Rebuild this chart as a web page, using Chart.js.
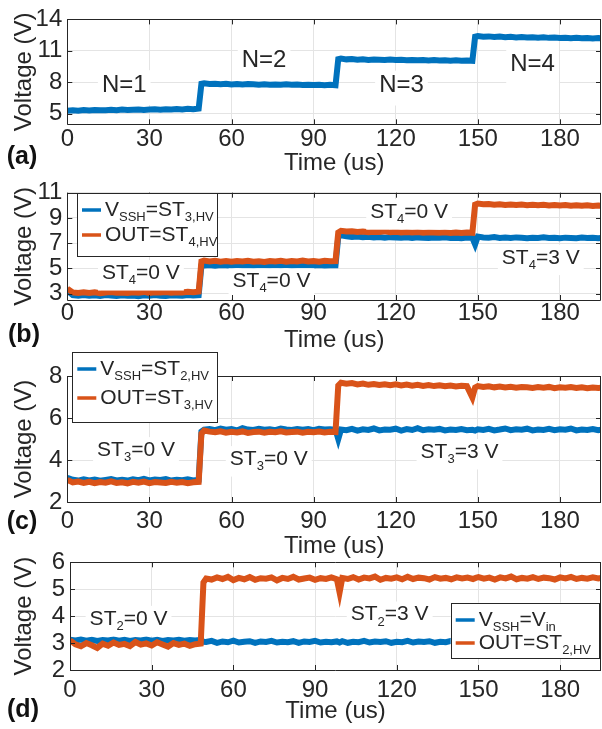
<!DOCTYPE html>
<html><head><meta charset="utf-8">
<script src="https://cdn.jsdelivr.net/npm/chart.js@4/dist/chart.umd.min.js"></script>
<style>
html,body{margin:0;padding:0;background:#fff;}
#wrap{position:relative;width:602px;height:729px;overflow:hidden;background:#fff;}
#wrap canvas{position:absolute;left:0;}
</style></head><body><div id="wrap">
<canvas id="ca" width="602" height="180" style="top:0px"></canvas>
<canvas id="cb" width="602" height="190" style="top:170px"></canvas>
<canvas id="cc" width="602" height="215" style="top:350px"></canvas>
<canvas id="cd" width="602" height="189" style="top:540px"></canvas>
</div>
<script>
// ================= DATA =================
const time = [0,2,4,6,8,10,12,14,16,18,20,22,24,26,28,30,32,34,36,38,40,42,44,46,48,
  49,
  50,52,54,56,58,60,62,64,66,68,70,72,74,76,78,80,82,84,86,88,90,92,94,96,
  98,99,
  100,102,104,106,108,110,112,114,116,118,120,122,124,126,128,130,132,134,136,138,140,142,144,146,
  148,149,
  150,152,154,156,158,160,162,164,166,168,170,172,174,176,178,180,182,184,186,188,190,192,194,
  195];
const xTicks = [0,30,60,90,120,150,180];
const yTicksA = [5,8,11,14];
const yTicksB = [3,5,7,9,11];
const yTicksC = [2,4,6,8];
const yTicksD = [2,3,4,5,6];

// (a) single output
const voltA = [5.30,5.34,5.29,5.36,5.32,5.37,5.33,5.35,5.38,5.34,5.40,5.36,5.39,5.42,5.37,5.41,5.43,5.39,5.44,5.41,5.46,5.42,5.47,5.44,5.50,
  7.86,
  7.90,7.84,7.87,7.82,7.86,7.80,7.84,7.79,7.83,7.81,7.77,7.82,7.78,7.80,7.76,7.81,7.77,7.79,7.75,7.78,7.74,7.77,7.73,7.76,
  7.72,10.20,
  10.26,10.19,10.22,10.16,10.20,10.14,10.18,10.15,10.12,10.17,10.13,10.16,10.11,10.14,10.10,10.13,10.09,10.12,10.08,10.11,10.07,10.10,10.06,10.09,
  10.06,12.36,
  12.42,12.35,12.38,12.32,12.36,12.30,12.34,12.28,12.32,12.27,12.30,12.25,12.29,12.24,12.27,12.22,12.26,12.21,12.24,12.20,12.23,12.19,12.22,
  12.20];

// (b)
const vsshB = [3.25,2.88,2.84,2.90,2.83,2.87,2.82,2.89,2.85,2.81,2.88,2.84,2.86,2.80,2.87,2.83,2.89,2.84,2.82,2.88,2.85,2.83,2.90,2.86,2.88,
  5.20,
  5.24,5.28,5.22,5.27,5.25,5.21,5.29,5.24,5.26,5.22,5.28,5.25,5.23,5.27,5.24,5.29,5.22,5.26,5.25,5.28,5.23,5.27,5.24,5.26,
  5.25,7.50,
  7.62,7.55,7.50,7.53,7.47,7.51,7.46,7.49,7.44,7.48,7.45,7.43,7.47,7.42,7.46,7.44,7.41,7.45,7.43,7.47,7.42,7.44,7.40,7.45,
  7.42,6.90,
  7.52,7.46,7.44,7.48,7.42,7.45,7.41,7.46,7.43,7.40,7.44,7.42,7.46,7.41,7.43,7.39,7.44,7.42,7.40,7.45,7.41,7.43,7.40,
  7.42];
const outB = [3.40,3.10,3.05,3.12,3.06,3.11,3.04,3.09,3.13,3.07,3.10,3.05,3.12,3.08,3.14,3.06,3.11,3.09,3.13,3.07,3.12,3.10,3.15,3.11,3.16,
  5.55,
  5.62,5.56,5.60,5.54,5.58,5.53,5.59,5.55,5.61,5.54,5.57,5.52,5.59,5.56,5.60,5.53,5.58,5.55,5.62,5.56,5.59,5.54,5.60,5.57,
  5.58,7.85,
  7.98,7.92,7.95,7.89,7.93,7.87,7.91,7.88,7.94,7.86,7.90,7.85,7.89,7.84,7.88,7.83,7.87,7.85,7.82,7.86,7.81,7.85,7.80,7.84,
  7.82,10.05,
  10.14,10.08,10.11,10.05,10.09,10.03,10.07,10.02,10.06,10.01,10.05,10.00,10.04,9.99,10.03,9.98,10.02,9.97,10.01,9.96,10.00,9.95,9.99,
  9.97];

// (c)
const vsshC = [3.15,3.06,3.02,3.08,3.03,3.07,3.01,3.05,3.09,3.03,3.06,3.02,3.08,3.04,3.10,3.03,3.07,3.05,3.09,3.02,3.06,3.04,3.08,3.03,3.06,
  5.35,
  5.45,5.48,5.42,5.50,5.44,5.47,5.41,5.52,5.45,5.43,5.49,5.44,5.46,5.42,5.50,5.45,5.43,5.48,5.44,5.47,5.42,5.49,5.45,5.46,
  5.44,5.00,
  5.45,5.42,5.48,5.40,5.46,5.43,5.50,5.41,5.45,5.44,5.49,5.40,5.47,5.43,5.52,5.42,5.46,5.44,5.48,5.41,5.45,5.43,5.47,5.42,
  5.44,5.40,
  5.46,5.43,5.48,5.41,5.45,5.50,5.42,5.46,5.44,5.49,5.41,5.45,5.43,5.48,5.42,5.46,5.44,5.50,5.41,5.45,5.43,5.47,5.42,
  5.44];
const outC = [3.05,2.93,2.97,2.91,2.96,2.90,2.95,2.92,2.98,2.91,2.94,2.89,2.96,2.92,2.97,2.90,2.95,2.93,2.91,2.96,2.92,2.95,2.90,2.94,2.96,
  5.25,
  5.40,5.35,5.32,5.37,5.30,5.34,5.31,5.36,5.29,5.33,5.35,5.30,5.34,5.32,5.37,5.31,5.33,5.35,5.30,5.34,5.32,5.36,5.31,5.34,
  5.33,7.55,
  7.68,7.63,7.66,7.60,7.64,7.58,7.62,7.57,7.61,7.56,7.60,7.55,7.59,7.54,7.58,7.53,7.57,7.52,7.56,7.51,7.55,7.50,7.54,7.52,
  6.98,7.45,
  7.52,7.48,7.51,7.46,7.50,7.45,7.49,7.44,7.48,7.46,7.43,7.47,7.44,7.48,7.42,7.46,7.44,7.47,7.43,7.46,7.42,7.45,7.43,
  7.44];

// (d)
const vsshD = [3.12,3.10,3.13,3.09,3.12,3.08,3.11,3.10,3.13,3.09,3.12,3.08,3.11,3.10,3.13,3.09,3.12,3.08,3.11,3.10,3.12,3.09,3.11,3.10,3.12,
  3.05,
  3.04,3.08,3.01,3.06,3.03,3.09,3.02,3.05,3.07,3.01,3.06,3.04,3.08,3.02,3.05,3.03,3.07,3.01,3.06,3.04,3.08,3.02,3.05,3.03,
  3.06,3.02,
  3.07,3.01,3.05,3.03,3.08,3.02,3.06,3.04,3.07,3.01,3.05,3.03,3.08,3.02,3.06,3.04,3.07,3.01,3.05,3.03,3.08,3.02,3.06,3.04,
  3.05,3.03,
  3.07,3.01,3.05,3.03,3.08,3.02,3.06,3.04,3.07,3.01,3.05,3.03,3.08,3.02,3.06,3.04,3.07,3.01,3.05,3.03,3.08,3.02,3.06,
  3.04];
const outD = [3.10,2.95,2.88,3.00,2.92,2.82,2.98,2.90,3.02,2.93,2.97,2.89,3.04,2.94,2.99,2.91,3.03,2.95,2.87,3.00,2.93,2.98,2.90,2.96,2.98,
  5.25,
  5.40,5.36,5.44,5.38,5.46,5.34,5.42,5.37,5.45,5.35,5.41,5.39,5.44,5.33,5.42,5.38,5.46,5.36,5.40,5.43,5.35,5.41,5.38,5.44,
  5.37,4.88,
  5.42,5.38,5.45,5.36,5.43,5.40,5.47,5.35,5.42,5.39,5.44,5.37,5.46,5.38,5.43,5.41,5.36,5.45,5.39,5.42,5.37,5.44,5.40,5.43,
  5.38,5.42,
  5.45,5.39,5.43,5.36,5.44,5.40,5.47,5.37,5.42,5.39,5.45,5.38,5.43,5.41,5.36,5.44,5.40,5.46,5.38,5.42,5.39,5.44,5.40,
  5.42];

// series names (legend), annotation texts
const namesB = ['V_{SSH}=ST_{3,HV}', 'OUT=ST_{4,HV}'];
const namesC = ['V_{SSH}=ST_{2,HV}', 'OUT=ST_{3,HV}'];
const namesD = ['V_{SSH}=V_{in}', 'OUT=ST_{2,HV}'];
const notesA = ['N=1','N=2','N=3','N=4'];
const notesB = ['ST_{4}=0 V','ST_{4}=0 V','ST_{4}=0 V','ST_{4}=3 V'];
const notesC = ['ST_{3}=0 V','ST_{3}=0 V','ST_{3}=3 V'];
const notesD = ['ST_{2}=0 V','ST_{2}=3 V'];

// ================= STYLE / LAYOUT =================
const FONT = '"Liberation Sans", Arial, Helvetica, sans-serif';
const BLUE = '#0072BD', ORANGE = '#D95319', INK = '#262626', GRID = '#e4e4e4';
const FS = 24, NOTE_FS = 21;

// annotation anchors in data units (time, volts), parallel to notes arrays
const notePosA = [[20.8,7.74],[71.9,10.05],[122.1,7.69],[170,9.74]];
const notePosB = [[26.9,4.63],[74.6,3.98],[124.9,9.45],[173,5.85]];
const notePosC = [[25.1,4.47],[73.6,4.04],[143.3,4.38]];
const notePosD = [[21.5,3.9],[117.4,4.06]];

const panels = [
  {id:'ca', top:0, h:180, left:67.3, areaTop:15, areaBottom:124.3, right:601,
   yMin:4, yMax:14, yTicks:yTicksA, labelCenter:139.7, titleY:163,
   tag:'(a)', tagPos:[22,157],
   series:[{data:voltA, color:BLUE, order:0}],
   notes:notesA, notePos:notePosA, legend:null},
  {id:'cb', top:170, h:190, left:67.3, areaTop:192.7, areaBottom:300, right:601,
   yMin:2.5, yMax:11, yTicks:yTicksB, labelCenter:313, titleY:340,
   tag:'(b)', tagPos:[24,335],
   series:[{data:vsshB, color:BLUE, order:1},{data:outB, color:ORANGE, order:0}],
   notes:notesB, notePos:notePosB,
   legend:{names:namesB, box:[77,193,217.4,256], rows:[210,235]}},
  {id:'cc', top:350, h:215, left:67.3, areaTop:376, areaBottom:502, right:601,
   yMin:2, yMax:8, yTicks:yTicksC, labelCenter:521, titleY:546,
   tag:'(c)', tagPos:[22,522],
   series:[{data:vsshC, color:BLUE, order:1},{data:outC, color:ORANGE, order:0}],
   notes:notesC, notePos:notePosC,
   legend:{names:namesC, box:[72.3,352,217.4,422],rows:[369,398]}},
  {id:'cd', top:540, h:189, left:70, areaTop:562.3, areaBottom:670, right:601,
   yMin:2, yMax:6, yTicks:yTicksD, labelCenter:690, titleY:711,
   tag:'(d)', tagPos:[23,710],
   series:[{data:vsshD, color:BLUE, order:1},{data:outD, color:ORANGE, order:0}],
   notes:notesD, notePos:notePosD,
   legend:{names:namesD, box:[450.7,602.7,599,658], rows:[620,643]}}
];

// ================= RICH TEXT =================
function parseRich(s){
  const parts=[]; const re=/_\{([^}]*)\}/g; let last=0, m;
  while((m=re.exec(s))){ if(m.index>last) parts.push({t:s.slice(last,m.index),sub:false});
    parts.push({t:m[1],sub:true}); last=re.lastIndex; }
  if(last<s.length) parts.push({t:s.slice(last),sub:false});
  return parts;
}
function richWidth(ctx, parts, size){
  let w=0;
  for(const p of parts){ ctx.font=(p.sub?Math.round(size*0.62):size)+'px '+FONT; w+=ctx.measureText(p.t).width; }
  return w;
}
function drawRich(ctx, s, x, y, size, align, bg){
  const parts=parseRich(s); const w=richWidth(ctx,parts,size);
  let cx = align==='center' ? x-w/2 : x;
  if(bg){ ctx.fillStyle='#fff'; ctx.fillRect(cx-4, y-size*0.62, w+8, size*1.45); }
  ctx.fillStyle=INK; ctx.textBaseline='middle'; ctx.textAlign='left';
  for(const p of parts){
    const fs=p.sub?Math.round(size*0.62):size;
    ctx.font=fs+'px '+FONT;
    ctx.fillText(p.t, cx, p.sub ? y+size*0.36 : y);
    cx+=ctx.measureText(p.t).width;
  }
}

// ================= PLUGIN =================
const panelPlugin = {
  id:'panel',
  afterDraw(chart, args, o){
    const P=o.P; const ctx=chart.ctx; const a=chart.chartArea;
    const xs=chart.scales.x, ys=chart.scales.y;
    ctx.save();
    // annotations
    P.notes.forEach((txt,i)=>{
      const px=xs.getPixelForValue(P.notePos[i][0]);
      const py=ys.getPixelForValue(P.notePos[i][1]);
      drawRich(ctx, txt, px, py, P.notes===notesA?FS:NOTE_FS, 'center', true);
    });
    // box + inward ticks
    ctx.strokeStyle=INK; ctx.lineWidth=1;
    ctx.beginPath();
    ctx.rect(Math.round(a.left)+0.5, Math.round(a.top)+0.5, Math.round(a.right-a.left)-1, Math.round(a.bottom-a.top));
    xs.ticks.forEach(t=>{ const px=Math.round(xs.getPixelForValue(t.value))+0.5;
      ctx.moveTo(px,a.bottom); ctx.lineTo(px,a.bottom-5); ctx.moveTo(px,a.top); ctx.lineTo(px,a.top+5); });
    ys.ticks.forEach(t=>{ const py=Math.round(ys.getPixelForValue(t.value))+0.5;
      ctx.moveTo(a.left,py); ctx.lineTo(a.left+5,py); ctx.moveTo(a.right,py); ctx.lineTo(a.right-5,py); });
    ctx.stroke();
    // legend
    if(P.legend){
      const L=P.legend, b=L.box, off=P.top;
      ctx.fillStyle='#fff';
      ctx.fillRect(b[0], b[1]-off, b[2]-b[0], b[3]-b[1]);
      ctx.strokeStyle=INK; ctx.lineWidth=1;
      ctx.strokeRect(Math.round(b[0])+0.5, Math.round(b[1]-off)+0.5, Math.round(b[2]-b[0]), Math.round(b[3]-b[1]));
      P.series.forEach((s,i)=>{
        const y=L.rows[i]-off;
        ctx.strokeStyle=s.color; ctx.lineWidth=3.5;
        ctx.beginPath(); ctx.moveTo(b[0]+5,y); ctx.lineTo(b[0]+24,y); ctx.stroke();
        drawRich(ctx, L.names[i], b[0]+28, y, NOTE_FS, 'left', false);
      });
    }
    // panel tag
    ctx.fillStyle='#111'; ctx.font='bold 25px '+FONT; ctx.textAlign='center'; ctx.textBaseline='middle';
    ctx.fillText(P.tag, P.tagPos[0], P.tagPos[1]-P.top);
    ctx.restore();
  }
};

// ================= CHARTS =================
panels.forEach(P=>{
  const H=P.h, LH=FS*1.2;
  const relBottom=P.areaBottom-P.top;
  new Chart(document.getElementById(P.id), {
    type:'line',
    data:{datasets:P.series.map(s=>({
      data: time.map((t,i)=>({x:t, y:s.data[i]})),
      borderColor:s.color, borderWidth:6, pointRadius:0, tension:0, fill:false, order:s.order
    }))},
    options:{
      responsive:false, animation:false, events:[],
      layout:{padding:{top:P.areaTop-P.top, left:0, right:602-P.right, bottom:0}},
      plugins:{legend:{display:false}, tooltip:{enabled:false}, panel:{P:P}},
      scales:{
        x:{type:'linear', min:0, max:195,
          afterBuildTicks:s=>{ s.ticks=xTicks.map(v=>({value:v})); },
          afterFit:s=>{ s.height=H-relBottom; },
          grid:{color:GRID, lineWidth:1, drawTicks:false},
          border:{display:false},
          ticks:{autoSkip:false, maxRotation:0, includeBounds:false, color:INK,
            padding:(P.labelCenter-P.areaBottom)-LH/2, font:{family:FONT,size:FS}},
          title:{display:true, text:'Time (us)', color:INK, font:{family:FONT,size:FS},
            padding:{top:0,bottom:(P.top+H)-P.titleY-LH/2}}
        },
        y:{type:'linear', min:P.yMin, max:P.yMax,
          afterBuildTicks:s=>{ s.ticks=P.yTicks.map(v=>({value:v})); },
          afterFit:s=>{ s.width=P.left; },
          grid:{color:GRID, lineWidth:1, drawTicks:false},
          border:{display:false},
          ticks:{autoSkip:false, color:INK, padding:5, font:{family:FONT,size:FS}},
          title:{display:true, text:'Voltage (V)', color:INK, font:{family:FONT,size:FS},
            padding:{top:24-LH/2,bottom:0}}
        }
      }
    },
    plugins:[panelPlugin]
  });
});
</script>
</body></html>
